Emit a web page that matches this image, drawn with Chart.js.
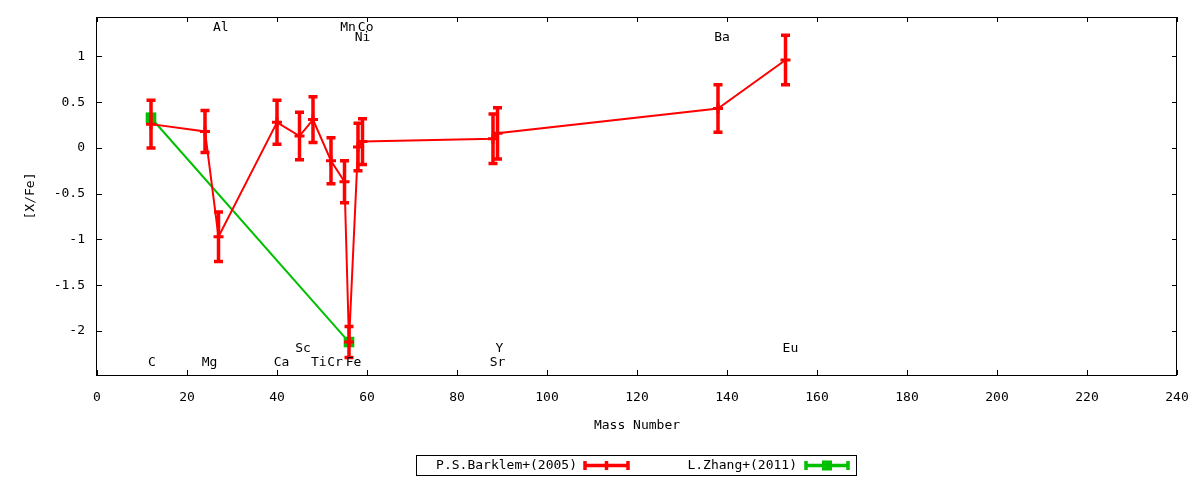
<!DOCTYPE html>
<html>
<head>
<meta charset="utf-8">
<script src="https://cdn.jsdelivr.net/npm/chart.js@4.4.1/dist/chart.umd.min.js"></script>
<style>
html, body { margin: 0; padding: 0; background: #fff; }
#chart { display: block; }
</style>
</head>
<body>
<canvas id="chart" width="1200" height="480"></canvas>
<script>
// P.S.Barklem+(2005)
const massNumbers = [12, 24, 27, 40, 45, 48, 52, 55, 56, 58, 59, 88, 89, 138, 153];
const barklemValues = [0.26, 0.18, -0.97, 0.28, 0.13, 0.31, -0.14, -0.37, -2.12, 0.01, 0.07, 0.10, 0.16, 0.43, 0.96];
const barklemErrors = [0.26, 0.23, 0.27, 0.24, 0.26, 0.25, 0.25, 0.23, 0.17, 0.26, 0.25, 0.27, 0.28, 0.26, 0.27];

// L.Zhang+(2011)
const zhangMass = [12, 56];
const zhangValues = [0.33, -2.12];
const zhangErrors = [0.03, 0.03];

// element names written on the plot (data coordinates)
const labelNames = ['C', 'Mg', 'Al', 'Ca', 'Sc', 'Ti', 'Cr', 'Mn', 'Fe', 'Co', 'Ni', 'Sr', 'Y', 'Ba', 'Eu'];
const labelX = [12.2, 25, 27.5, 41, 45.8, 49.3, 52.9, 55.8, 57, 59.7, 59, 89, 89.4, 138.9, 154.1];
const labelY = [-2.35, -2.35, 1.31, -2.35, -2.19, -2.35, -2.35, 1.31, -2.35, 1.31, 1.2, -2.35, -2.19, 1.2, -2.19];

const xTicks = [0, 20, 40, 60, 80, 100, 120, 140, 160, 180, 200, 220, 240];
const yTicks = [-2, -1.5, -1, -0.5, 0, 0.5, 1];

const RED = '#ff0000';
const GREEN = '#00c000';
const FONT = "'DejaVu Sans Mono', monospace";

function toPoints(xs, ys) {
    return xs.map((x, i) => ({ x: x, y: ys[i] }));
}

Chart.defaults.font.family = FONT;
Chart.defaults.font.size = 13;
Chart.defaults.color = '#000';

// error bars with caps, drawn right after their own dataset
const errorBars = {
    id: 'errorBars',
    afterDatasetDraw(chart, args) {
        const ds = chart.data.datasets[args.index];
        if (!ds.errors) return;
        const ctx = chart.ctx;
        const xs = chart.scales.x, ys = chart.scales.y;
        ctx.save();
        ctx.strokeStyle = ds.borderColor;
        ctx.lineWidth = 3.5;
        ds.data.forEach((p, i) => {
            const px = xs.getPixelForValue(p.x);
            const top = ys.getPixelForValue(p.y + ds.errors[i]);
            const bot = ys.getPixelForValue(p.y - ds.errors[i]);
            ctx.beginPath();
            ctx.moveTo(px, top); ctx.lineTo(px, bot);
            ctx.moveTo(px - 4.5, top); ctx.lineTo(px + 4.5, top);
            ctx.moveTo(px - 4.5, bot); ctx.lineTo(px + 4.5, bot);
            ctx.stroke();
        });
        ctx.restore();
    }
};

// frame with inward ticks on all four sides
const frame = {
    id: 'frame',
    beforeDatasetsDraw(chart) {
        const { ctx, chartArea: a } = chart;
        const xs = chart.scales.x, ys = chart.scales.y;
        ctx.save();
        ctx.strokeStyle = '#000';
        ctx.lineWidth = 1;
        ctx.beginPath();
        xTicks.forEach(v => {
            const px = Math.round(xs.getPixelForValue(v)) + 0.5;
            ctx.moveTo(px, a.bottom); ctx.lineTo(px, a.bottom - 5);
            ctx.moveTo(px, a.top); ctx.lineTo(px, a.top + 5);
        });
        yTicks.forEach(v => {
            const py = Math.round(ys.getPixelForValue(v)) + 0.5;
            ctx.moveTo(a.left, py); ctx.lineTo(a.left + 5, py);
            ctx.moveTo(a.right, py); ctx.lineTo(a.right - 5, py);
        });
        ctx.stroke();
        ctx.strokeRect(Math.round(a.left) - 0.5, Math.round(a.top) + 0.5,
            Math.round(a.right - a.left), Math.round(a.bottom - a.top));
        ctx.restore();
    }
};

// element labels and the boxed legend underneath
const annotations = {
    id: 'annotations',
    afterDraw(chart) {
        const ctx = chart.ctx;
        const xs = chart.scales.x, ys = chart.scales.y;
        ctx.save();
        ctx.font = '13px ' + FONT;
        ctx.fillStyle = '#000';
        ctx.textAlign = 'center';
        ctx.textBaseline = 'middle';
        labelNames.forEach((name, i) => {
            ctx.fillText(name, xs.getPixelForValue(labelX[i]), ys.getPixelForValue(labelY[i]));
        });

        // legend
        ctx.strokeStyle = '#000';
        ctx.lineWidth = 1;
        ctx.strokeRect(416.5, 455.5, 440, 20);
        ctx.textAlign = 'right';
        const ly = 465.5;
        ctx.fillText(chart.data.datasets[0].label, 577, ly);
        ctx.fillText(chart.data.datasets[1].label, 797, ly);

        function sample(x0, x1, color, square) {
            const mid = (x0 + x1) / 2;
            ctx.strokeStyle = color;
            ctx.lineWidth = 3.5;
            ctx.beginPath();
            ctx.moveTo(x0, ly); ctx.lineTo(x1, ly);
            ctx.moveTo(x0, ly - 4.5); ctx.lineTo(x0, ly + 4.5);
            ctx.moveTo(x1, ly - 4.5); ctx.lineTo(x1, ly + 4.5);
            if (!square) {
                ctx.moveTo(mid, ly - 4.5); ctx.lineTo(mid, ly + 4.5);
            }
            ctx.stroke();
            if (square) {
                ctx.fillStyle = color;
                ctx.fillRect(mid - 5, ly - 5, 10, 10);
            }
        }
        sample(585, 628, RED, false);
        sample(806, 848, GREEN, true);
        ctx.restore();
    }
};

new Chart(document.getElementById('chart'), {
    type: 'scatter',
    data: {
        datasets: [
            {
                label: 'P.S.Barklem+(2005)',
                data: toPoints(massNumbers, barklemValues),
                errors: barklemErrors,
                showLine: true,
                borderColor: RED,
                backgroundColor: RED,
                borderWidth: 2,
                pointStyle: 'cross',
                pointRadius: 5,
                pointBorderWidth: 3,
                pointHoverRadius: 5
            },
            {
                label: 'L.Zhang+(2011)',
                data: toPoints(zhangMass, zhangValues),
                errors: zhangErrors,
                showLine: true,
                borderColor: GREEN,
                backgroundColor: GREEN,
                borderWidth: 2,
                pointStyle: 'rect',
                pointRadius: 7.5,
                pointBorderWidth: 0,
                pointHoverRadius: 7.5
            }
        ]
    },
    options: {
        responsive: false,
        animation: false,
        devicePixelRatio: 1,
        layout: { padding: { left: 0, top: 17, right: 23, bottom: 0 } },
        plugins: {
            legend: { display: false },
            tooltip: { enabled: false }
        },
        scales: {
            x: {
                type: 'linear',
                min: 0,
                max: 240,
                afterFit(s) {
                    s.height = 105;
                    s.paddingLeft = 0; s.paddingRight = 0;
                },
                afterBuildTicks(s) { s.ticks = xTicks.map(v => ({ value: v })); },
                grid: { display: false, drawTicks: false },
                border: { display: false },
                ticks: { padding: 15, maxRotation: 0, autoSkip: false, callback: v => String(v) },
                title: { display: true, text: 'Mass Number', padding: { top: 0, bottom: 47 } }
            },
            y: {
                type: 'linear',
                min: -2.48,
                max: 1.43,
                afterFit(s) {
                    s.width = 97;
                    s.paddingTop = 0; s.paddingBottom = 0;
                },
                afterBuildTicks(s) { s.ticks = yTicks.map(v => ({ value: v })); },
                grid: { display: false, drawTicks: false },
                border: { display: false },
                ticks: { padding: 12, autoSkip: false, callback: v => String(v) },
                title: { display: true, text: '[X/Fe]', padding: { top: 23, bottom: 0 } }
            }
        }
    },
    plugins: [frame, errorBars, annotations]
});
</script>
</body>
</html>
